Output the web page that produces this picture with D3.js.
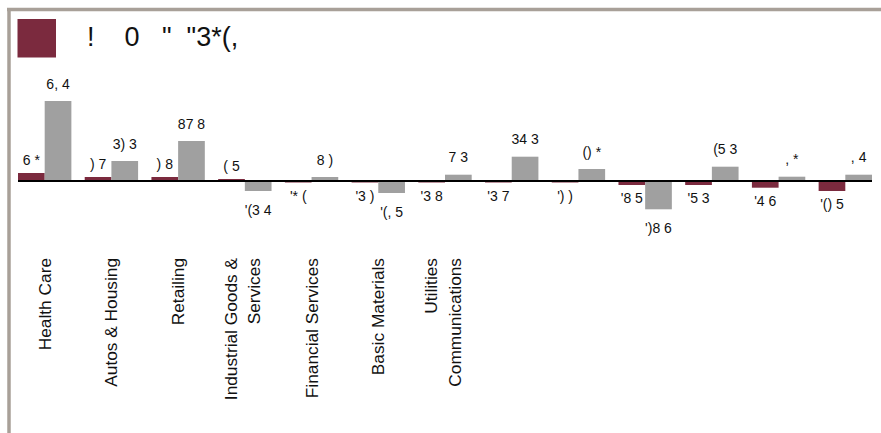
<!DOCTYPE html>
<html><head><meta charset="utf-8">
<script src="https://cdn.jsdelivr.net/npm/d3@7"></script>
<style>
html,body{margin:0;padding:0;background:#fff;overflow:hidden;}
svg{display:block;font-family:"Liberation Sans",Arial,sans-serif;}
</style></head><body>
<svg id="chart" width="881" height="433"></svg>
<script>
// ---- data ----
const categoryLines = [
  ["Health Care"], ["Autos & Housing"], ["Retailing"], ["Industrial Goods &", "Services"],
  ["Financial Services"], ["Basic Materials"], ["Utilities", "Communications"],
  [], [], [], [], [], []
];
const legendLabel = "!    0   \"  \"3*(,";
const series1Values = [8, 4, 4, 2, -1.5, -1.5, -1.5, -1.5, -1.5, -4, -4, -6.7, -10];
const series2Values = [80, 20, 40, -10, 4, -12, 6.3, 24.3, 12, -28.3, 14.3, 4.3, 6.3];
const series1Labels = ["6 *", ") 7", ") 8", "( 5", "'* (", "'3 )", "'3 8", "'3 7", "') )", "'8 5", "'5 3", "'4 6", "'() 5"];
const series2Labels = ["6, 4", "3) 3", "87 8", "'(3 4", "8 )", "'(, 5", "7 3", "34 3", "() *", "')8 6", "(5 3", ", *", ", 4"];

const colors = ["#7b2a3e", "#a0a0a0"];

// ---- chart ----
const svg = d3.select("#chart");
const W = 881, H = 433;

// frame
svg.append("rect").attr("x", 0).attr("y", 0).attr("width", W).attr("height", H).attr("fill", "#fff");
svg.append("line").attr("x1", 7).attr("x2", W).attr("y1", 9.5).attr("y2", 9.5)
  .attr("stroke", "#a8a098").attr("stroke-width", 3.5);
svg.append("line").attr("x1", 9).attr("x2", 9).attr("y1", 8).attr("y2", H)
  .attr("stroke", "#a8a098").attr("stroke-width", 3.5);

// legend
svg.append("rect").attr("x", 17.5).attr("y", 19).attr("width", 38.5).attr("height", 38.5).attr("fill", colors[0]);
svg.append("text").attr("x", 87).attr("y", 45.5).attr("font-size", 27).attr("fill", "#111")
  .style("white-space", "pre").text(legendLabel);

const idx = d3.range(categoryLines.length);
const x0 = d3.scaleBand().domain(idx).range([18, 872]).paddingInner(0.2).paddingOuter(0);
const x1 = d3.scaleBand().domain([0, 1]).range([0, x0.bandwidth()]);
const y = d3.scaleLinear().domain([0, 80]).range([181, 101]);

const seriesVals = [series1Values, series2Values];
const seriesLabels = [series1Labels, series2Labels];

const groups = svg.append("g").selectAll("g").data(idx).join("g")
  .attr("transform", d => `translate(${x0(d)},0)`);

[0, 1].forEach(s => {
  groups.append("rect")
    .attr("x", x1(s))
    .attr("width", x1.bandwidth())
    .attr("y", d => seriesVals[s][d] >= 0 ? y(seriesVals[s][d]) : y(0))
    .attr("height", d => Math.abs(y(seriesVals[s][d]) - y(0)))
    .attr("fill", colors[s]);
});

// value labels
const posGap = [8.5, 12.5], negGap = [18, 24];
[0, 1].forEach(s => {
  groups.append("text")
    .attr("x", x1(s) + x1.bandwidth() / 2)
    .attr("y", d => {
      const v = seriesVals[s][d];
      return v >= 0 ? y(v) - posGap[s] : y(v) + negGap[s];
    })
    .attr("text-anchor", "middle")
    .attr("font-size", 14)
    .attr("fill", "#111")
    .style("white-space", "pre")
    .text(d => seriesLabels[s][d]);
});

// zero axis line
svg.append("line").attr("x1", 18).attr("x2", 872).attr("y1", y(0)).attr("y2", y(0))
  .attr("stroke", "#000").attr("stroke-width", 2);

// category labels (rotated)
const catG = svg.append("g").selectAll("text").data(idx).join("text")
  .attr("transform", d => `translate(${x0(d) + x0.bandwidth() / 2},258) rotate(-90)`)
  .attr("text-anchor", "end")
  .attr("font-size", 17.3)
  .attr("fill", "#111");
catG.each(function(d) {
  const lines = categoryLines[d];
  const t = d3.select(this);
  const n = lines.length;
  lines.forEach((ln, i) => {
    t.append("tspan").attr("x", 0)
      .attr("y", n === 1 ? 6 : (i === 0 ? -8 : 15.5))
      .text(ln);
  });
});
</script>
</body></html>
